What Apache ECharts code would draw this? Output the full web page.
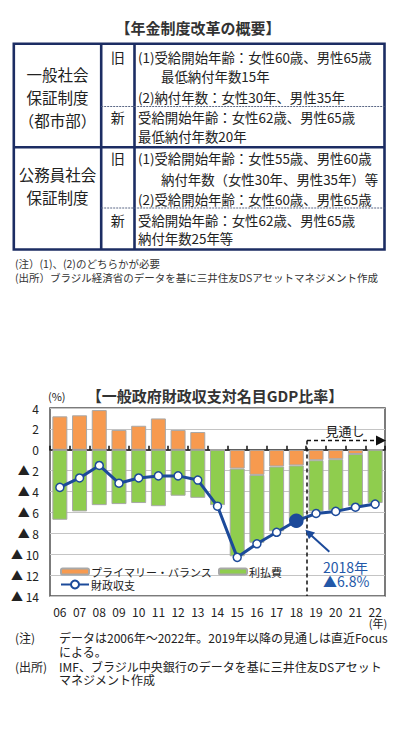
<!DOCTYPE html>
<html>
<head>
<meta charset="utf-8">
<script src="https://cdn.jsdelivr.net/npm/echarts@6/dist/echarts.min.js"></script>
<style>
html,body{margin:0;padding:0;background:#fff;}
#c{width:396px;height:730px;}
</style>
</head>
<body>
<div id="c"></div>
<script>
// ---------- data ----------
const years = ['06','07','08','09','10','11','12','13','14','15','16','17','18','19','20','21','22'];
const primaryBalance = [3.2,3.3,3.8,1.9,2.3,3.0,1.9,1.7,0,-1.8,-2.4,-1.6,-1.5,-1.0,-0.9,-0.4,0];
const interestPayments = [-6.7,-5.9,-5.3,-5.2,-5.1,-5.4,-4.4,-4.6,-5.3,-8.4,-6.5,-6.2,-5.3,-4.9,-4.9,-5.0,-5.1];
const fiscalBalance = [-3.6,-2.7,-1.5,-3.2,-2.7,-2.5,-2.5,-2.9,-5.4,-10.3,-9.0,-7.9,-6.8,-6.1,-5.9,-5.5,-5.2];
const seriesNames = ['プライマリー・バランス','利払費','財政収支'];
const highlightYear = '18';
const forecastStart = '19';
const highlightText = ['2018年','▲6.8%'];
const forecastLabel = '見通し';
const chartTitle = '【一般政府財政収支対名目GDP比率】';
const unitLabel = '(%)';
const yearUnit = '(年)';
const noteHeads = ['(注)', '(出所)'];
const noteBodies = [
  ['データは2006年～2022年。2019年以降の見通しは直近Focus', 'による。'],
  ['IMF、ブラジル中央銀行のデータを基に三井住友DSアセット', 'マネジメント作成']
];

// table content
const tableTitle = '【年金制度改革の概要】';
const systemNames = [['一般社会','保証制度','（都市部）'], ['公務員社会','保証制度']];
const oldNew = ['旧','新'];
const rulesGeneralOld = ['(1)受給開始年齢：女性60歳、男性65歳','最低納付年数15年','(2)納付年数：女性30年、男性35年'];
const rulesGeneralNew = ['受給開始年齢：女性62歳、男性65歳','最低納付年数20年'];
const rulesPublicOld = ['(1)受給開始年齢：女性55歳、男性60歳','納付年数（女性30年、男性35年）等','(2)受給開始年齢：女性60歳、男性65歳'];
const rulesPublicNew = ['受給開始年齢：女性62歳、男性65歳','納付年数25年等'];
const tableNotes = ['(注）(1)、(2)のどちらかが必要','(出所）ブラジル経済省のデータを基に三井住友DSアセットマネジメント作成'];

// ---------- style ----------
const FONT = '"Noto Sans CJK JP", "Noto Sans", sans-serif';
const BLUE = '#1c4a9a';
const ORANGE = '#f79a4f';
const GREEN = '#8fcd4e';
const NAVY = '#1c2d63';
const TXT = '#222';

const chart = echarts.init(document.getElementById('c'), null, {renderer:'svg'});

const fiscalData = fiscalBalance.map((v,i)=> years[i]===highlightYear
  ? {value:v, symbolSize:13, itemStyle:{color:BLUE, borderColor:BLUE}}
  : v);

chart.setOption({
  animation:false,
  textStyle:{fontFamily:FONT},
  grid:{left:50, right:11, top:408, bottom:134, show:true, borderColor:'#505050', borderWidth:1.5, backgroundColor:'transparent'},
  xAxis:[
    {type:'category', data:years, position:'bottom',
     axisLine:{show:false, onZero:false}, axisTick:{show:false},
     axisLabel:{fontSize:12, lineHeight:12, color:TXT, margin:9, interval:0, fontFamily:FONT},
     splitLine:{show:false}},
    {type:'category', data:years, position:'top',
     axisLine:{show:true, onZero:true, lineStyle:{color:'#111', width:1.5}},
     axisTick:{show:true, inside:false, length:4, interval:0, lineStyle:{color:'#111', width:1.5}},
     axisLabel:{show:false}, splitLine:{show:false}}
  ],
  yAxis:{type:'value', min:-14, max:4, interval:2,
    axisLine:{show:false}, axisTick:{show:false},
    splitLine:{lineStyle:{color:'#c4c4c4', width:1}},
    axisLabel:{fontSize:12, color:TXT, margin:11, fontFamily:FONT,
      formatter:v=> v<0 ? '▲ '+(-v) : String(v)}},
  legend:[
    {data:[seriesNames[0], seriesNames[1]], left:60, top:566, itemWidth:28, itemHeight:6, itemGap:6,
     textStyle:{fontSize:11, lineHeight:11, color:TXT, fontFamily:FONT, padding:[0,0,0,-3]}, padding:0},
    {data:[seriesNames[2]], left:60, top:579, itemWidth:28, itemHeight:10, itemGap:6,
     textStyle:{fontSize:11, lineHeight:11, color:TXT, fontFamily:FONT, padding:[0,0,0,-3]}, padding:0}
  ],
  series:[
    {name:seriesNames[0], type:'bar', stack:'pb', data:primaryBalance, barWidth:15,
     itemStyle:{color:ORANGE, borderColor:'#a8a8a8', borderWidth:1}},
    {name:seriesNames[1], type:'bar', stack:'pb', data:interestPayments, barWidth:15,
     itemStyle:{color:GREEN, borderColor:'#a8a8a8', borderWidth:1}},
    {name:seriesNames[2], type:'line', data:fiscalData, z:5,
     symbol:'circle', symbolSize:8, showAllSymbol:true,
     lineStyle:{color:BLUE, width:3},
     itemStyle:{color:'#fff', borderColor:BLUE, borderWidth:1.5}}
  ]
});

// ---------- graphics (table, titles, notes, annotations) ----------
// s may be a string or an array of lines (drawn as one multi-line text centred on y)
function txt(x,y,s,o){
  o=o||{};
  const size = o.size||12;
  const lines = Array.isArray(s) ? s : [s];
  return {type:'text', x:x, y:y, z:o.z||50, silent:true, style:{text:lines.join('\n'), fontSize:size,
    lineHeight:o.lh||size, fontFamily:FONT,
    fontWeight:o.weight||'normal', fill:o.color||TXT, align:o.align||'left', verticalAlign:'middle'}};
}
function ln(x1,y1,x2,y2,o){
  o=o||{};
  return {type:'line', z:o.z||50, silent:true, shape:{x1:x1,y1:y1,x2:x2,y2:y2},
    style:{stroke:o.color||NAVY, lineWidth:o.width||1, lineDash:o.dash||null}};
}
const g = [];

// table title
g.push(txt(198,27,tableTitle,{size:15, weight:'bold', align:'center', color:'#333'}));
// table frame
const L=13.8, R=384.5, T=43.8, B=249.5, C1=101.2, C2=134.5, MID=147.2;
g.push({type:'rect', z:50, silent:true, shape:{x:L,y:T,width:R-L,height:B-T}, style:{fill:'none', stroke:NAVY, lineWidth:2.6}});
g.push(ln(C1,T,C1,B,{width:2.6}));
g.push(ln(C2,T,C2,B,{width:2.6}));
g.push(ln(L,MID,R,MID,{width:2.6}));
g.push(ln(C1,106.5,R,106.5,{width:1, dash:[2,1], color:'#5a6785'}));
g.push(ln(C1,208,R,208,{width:1, dash:[2,1], color:'#5a6785'}));

// column 1
const c1x = (L+C1)/2;
g.push(txt(c1x,97,systemNames[0],{size:15.5, lh:23, align:'center'}));
g.push(txt(c1x,185.5,systemNames[1],{size:15.5, lh:23, align:'center'}));
// column 2
const c2x = (C1+C2)/2;
g.push(txt(c2x,57,oldNew[0],{size:14, align:'center'}));
g.push(txt(c2x,117,oldNew[1],{size:14, align:'center'}));
g.push(txt(c2x,158,oldNew[0],{size:14, align:'center'}));
g.push(txt(c2x,220,oldNew[1],{size:14, align:'center'}));
// column 3
const tx = 138, ind = 161, fs3 = 13.4;
g.push(txt(tx,57,rulesGeneralOld[0],{size:fs3}));
g.push(txt(ind,76,rulesGeneralOld[1],{size:fs3}));
g.push(txt(tx,97,rulesGeneralOld[2],{size:fs3}));
g.push(txt(tx,126.5,rulesGeneralNew,{size:fs3, lh:19}));
g.push(txt(tx,158,rulesPublicOld[0],{size:fs3}));
g.push(txt(ind,179,rulesPublicOld[1],{size:fs3}));
g.push(txt(tx,199,rulesPublicOld[2],{size:fs3}));
g.push(txt(tx,229,rulesPublicNew,{size:fs3, lh:18}));
// table notes
g.push(txt(15,270,tableNotes,{size:10.5, lh:14, color:'#333'}));

// chart title & units
g.push(txt(215,395,chartTitle,{size:15, weight:'bold', align:'center', color:'#333'}));
g.push(txt(48,396,unitLabel,{size:11}));
g.push(txt(378,623,yearUnit,{size:11, align:'center'}));
// chart notes
g.push(txt(15,637,noteHeads[0],{size:12}));
g.push(txt(59,644,noteBodies[0],{size:12, lh:14}));
g.push(txt(15,666,noteHeads[1],{size:12}));
g.push(txt(59,672.5,noteBodies[1],{size:12, lh:13}));

// annotations computed from the axes
const px = (cat,val)=> chart.convertToPixel({xAxisIndex:0, yAxisIndex:0},[cat,val]);
const pHi = px(highlightYear, fiscalBalance[years.indexOf(highlightYear)]);
const pFs = px(forecastStart, 0);
const splitX = Math.round((pHi[0]+pFs[0])/2)+1;
const yDash = px(forecastStart, 0.9)[1];
const yBottom = px(forecastStart, -14)[1];
const rightX = 386;
g.push(ln(splitX,yDash,splitX,yBottom,{color:'#111', width:1.5, dash:[4,3], z:60}));
g.push(ln(splitX,yDash,rightX-8,yDash,{color:'#111', width:1.5, dash:[4,3], z:60}));
g.push({type:'polygon', z:60, silent:true, shape:{points:[[rightX,yDash],[rightX-10,yDash-5],[rightX-10,yDash+5]]}, style:{fill:'#111'}});
g.push(txt(splitX+38,yDash-10,forecastLabel,{size:13, align:'center', z:60}));
// arrow to highlighted point
const ax = pHi[0]+9, ay = pHi[1]+9;
const bx = pHi[0]+33, by = pHi[1]+31;
g.push(ln(bx,by,ax+3,ay+3,{color:BLUE, width:2, z:60}));
const ang = Math.atan2(ay-by, ax-bx);
const hl = 9, hw = 4.5;
const p1 = [ax - hl*Math.cos(ang) + hw*Math.sin(ang), ay - hl*Math.sin(ang) - hw*Math.cos(ang)];
const p2 = [ax - hl*Math.cos(ang) - hw*Math.sin(ang), ay - hl*Math.sin(ang) + hw*Math.cos(ang)];
g.push({type:'polygon', z:60, silent:true, shape:{points:[[ax,ay],p1,p2]}, style:{fill:BLUE}});
g.push(txt(323,pHi[1]+53,highlightText,{size:14, lh:14, color:'#2358a8', z:60}));

chart.setOption({graphic:g});
</script>
</body>
</html>
